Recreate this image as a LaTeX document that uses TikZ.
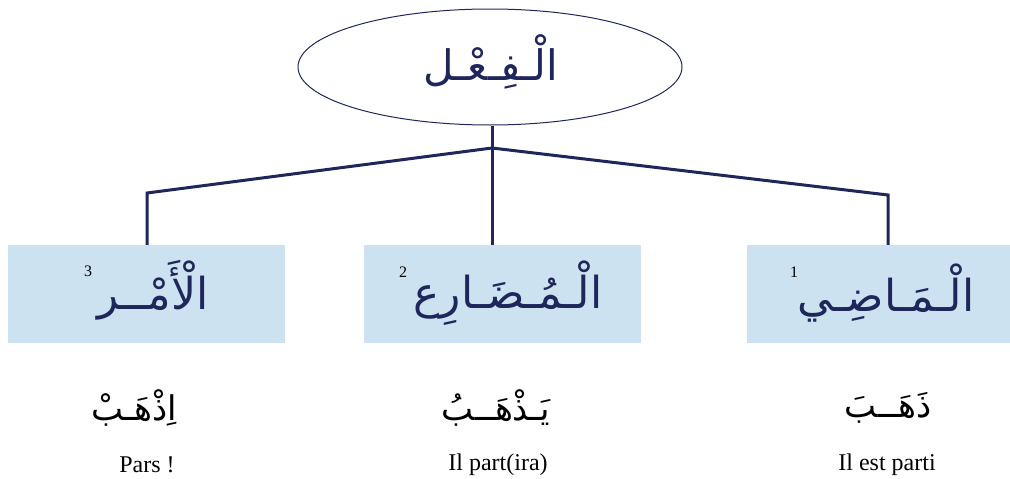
\documentclass[tikz,border=0pt]{standalone}
\usepackage{fontspec}
\setmainfont{Liberation Serif}
\newfontfamily\arabicfont[Script=Arabic]{DejaVu Sans}
\TeXXeTstate=1
\usetikzlibrary{shapes.geometric}
\definecolor{navy}{RGB}{31,38,92}
\definecolor{boxblue}{RGB}{204,226,240}
\tikzset{
  conn/.style={draw=navy, line width=3pt},
  catbox/.style={fill=boxblue, draw=none, minimum height=98pt, inner sep=0pt},
  cattext/.style={text=navy, font=\arabicfont\fontsize{44}{50}\selectfont},
  numtext/.style={text=black, font=\fontsize{16}{18}\selectfont},
  verbtext/.style={text=black, font=\arabicfont\fontsize{34}{40}\selectfont},
  frtext/.style={text=black, font=\fontsize{24}{26}\selectfont}
}
\begin{document}
\begin{tikzpicture}[x=1pt,y=-1pt]
\useasboundingbox (0,0) rectangle (1010,479);
% root
\node[ellipse, draw=navy, line width=1pt, minimum width=384pt, minimum height=116pt, inner sep=0pt] (root) at (490,67) {};
\node[cattext, font=\arabicfont\fontsize{42}{48}\selectfont] (roottxt) at (491,62) {\beginR الْـفِـعْـل\endR};
% category boxes
\node[catbox, minimum width=277pt] (imp) at (146.5,294) {};
\node[catbox, minimum width=277pt] (pres) at (502.5,294) {};
\node[catbox, minimum width=263pt] (past) at (878.5,294) {};
\node[cattext] (imptxt) at (153,290) {\beginR الْأَمْــر\endR};
\node[cattext] (prestxt) at (508,293) {\beginR الْـمُـضَـارِع\endR};
\node[cattext] (pasttxt) at (886,293) {\beginR الْـمَـاضِـي\endR};
\node[numtext] (n3) at (88,271) {3};
\node[numtext] (n2) at (403,272) {2};
\node[numtext] (n1) at (794,272) {1};
% connectors
\coordinate (hub) at (492,148);
\coordinate (lk) at (147,193);
\coordinate (rk) at (888,195);
\draw[conn] (root.south -| hub) -- (hub);
\draw[conn] (hub) -- (lk) -- (lk |- imp.north);
\draw[conn] (hub) -- (hub |- pres.north);
\draw[conn] (hub) -- (rk) -- (rk |- past.north);
% verbs
\node[verbtext] (v3) at (134,408) {\beginR اِذْهَـبْ\endR};
\node[verbtext] (v2) at (496,408) {\beginR يَـذْهَــبُ\endR};
\node[verbtext] (v1) at (888,408) {\beginR ذَهَــبَ\endR};
\node[frtext] (f3) at (147,465) {Pars !};
\node[frtext] (f2) at (498,465) {Il part(ira)};
\node[frtext] (f1) at (887,465) {Il est parti};
\end{tikzpicture}
\end{document}
